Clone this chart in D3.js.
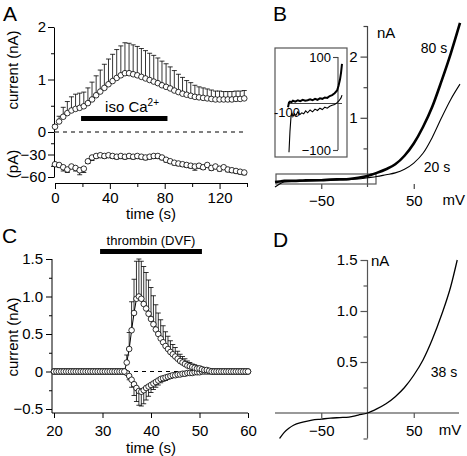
<!DOCTYPE html>
<html><head><meta charset="utf-8">
<script src="https://cdn.jsdelivr.net/npm/d3@7"></script>
<style>
body{margin:0;background:#fff}
svg text{font-family:"Liberation Sans",Arial,Helvetica,sans-serif;fill:#000}
</style>
</head><body><svg id="c" width="467" height="456"></svg>
<script>
// ---------- Panel A data ----------
const timeA = [0,3,6,9,12,15,18,21,24,27,30,33,36,39,42,45,48,51,54,57,60,63,66,69,72,75,78,81,84,87,90,93,96,99,102,105,108,111,114,117,120,123,126,129,132,135,138];
const currentA_nA = [0.10,0.20,0.29,0.36,0.41,0.44,0.46,0.49,0.55,0.62,0.70,0.77,0.84,0.91,0.97,1.03,1.08,1.12,1.12,1.10,1.08,1.05,1.02,0.99,0.96,0.93,0.89,0.86,0.83,0.79,0.76,0.73,0.71,0.69,0.67,0.66,0.65,0.64,0.63,0.62,0.62,0.62,0.62,0.62,0.63,0.63,0.64];
const semA_nA = [0.04,0.10,0.18,0.22,0.26,0.28,0.28,0.27,0.29,0.33,0.37,0.41,0.45,0.48,0.51,0.54,0.56,0.58,0.57,0.56,0.55,0.54,0.53,0.51,0.50,0.48,0.46,0.44,0.41,0.38,0.34,0.31,0.27,0.25,0.22,0.20,0.19,0.18,0.17,0.16,0.16,0.15,0.15,0.15,0.15,0.15,0.15];
const currentA_pA = [-43,-44,-47,-50,-46,-48,-51,-49,-39,-34,-32,-31,-32,-31,-32,-33,-32,-33,-32,-33,-32,-33,-34,-33,-32,-32,-34,-37,-39,-41,-42,-43,-44,-45,-46,-45,-47,-44,-48,-46,-49,-47,-50,-51,-52,-53,-54];
const semA_pA = [3,3,5,4,3,4,6,5,3,4,3,3,3,3,3,3,3,3,3,3,3,3,3,3,3,3,3,3,3,3,3,3,3,3,5,3,3,3,3,3,3,3,3,3,3,3,3];
const isoBar = [19, 82];
const tickA_x = [0,40,80,120];
const tickA_xMinor = [20,60,100,140];
const tickA_nA = [0,1,2];
const tickA_nAMinor = [0.5,1.5];
const tickA_pA = [-60,-30];
const tickA_pAMinor = [-45,-15];

// ---------- Panel B data ----------
const voltB80 = [-100,-95,-90,-80,-70,-60,-50,-40,-30,-20,-10,0,10,20,30,40,50,60,70,80,90,100];
const currB80 = [-0.05,-0.04,-0.03,-0.03,-0.025,-0.02,-0.02,-0.01,-0.005,0.0,0.02,0.05,0.10,0.16,0.24,0.38,0.58,0.85,1.18,1.60,2.05,2.55];
const voltB20 = [-100,-95,-90,-80,-70,-60,-50,-40,-30,-20,-10,0,10,20,30,40,50,60,70,80,90,100];
const currB20 = [-0.13,-0.08,-0.05,-0.04,-0.035,-0.03,-0.025,-0.02,-0.015,-0.01,0.0,0.02,0.04,0.07,0.10,0.16,0.26,0.42,0.68,1.00,1.30,1.55];
const insetV80 = [-100,-98,-96,-93,-90,-85,-80,-75,-70,-65,-60,-55,-50,-45,-40,-35,-30,-25,-20,-15,-10,-5,0,3,6,8,10];
const insetI80 = [-8,2,4,3,6,4,7,5,8,6,7,9,7,10,8,11,10,13,12,16,18,22,28,38,52,66,85];
const insetV20 = [-98,-96,-94,-92,-90,-87,-84,-80,-76,-72,-68,-64,-60,-55,-50,-45,-40,-35,-30,-25,-20,-15,-10,-5,0,4,8,10];
const insetI20 = [-105,-60,-30,-20,-28,-22,-26,-18,-24,-20,-22,-16,-20,-14,-18,-12,-15,-10,-13,-8,-10,-6,-4,-2,2,6,12,18];
const tickB_x = [-50,50];
const tickB_yMajor = [1,2];
const tickB_yMinor = [0.5,1.5,2.5];

// ---------- Panel C data ----------
const timeC = [20,20.5,21,21.5,22,22.5,23,23.5,24,24.5,25,25.5,26,26.5,27,27.5,28,28.5,29,29.5,30,30.5,31,31.5,32,32.5,33,33.5,34,34.5,35,35.5,36,36.5,37,37.5,38,38.5,39,39.5,40,40.5,41,41.5,42,42.5,43,43.5,44,44.5,45,45.5,46,46.5,47,47.5,48,48.5,49,49.5,50,50.5,51,51.5,52,52.5,53,53.5,54,54.5,55,55.5,56,56.5,57,57.5,58,58.5,59,59.5,60];
const outwardC = [0,0,0,0,0,0,0,0,0,0,0,0,0,0,0,0,0,0,0,0,0,0,0,0,0,0,0,0,0,0,
  0.12,0.30,0.55,0.78,0.97,1.00,0.97,0.90,0.84,0.77,0.70,0.63,0.56,0.50,0.44,0.39,0.34,0.30,0.26,0.23,0.20,0.17,0.14,0.12,0.10,0.08,0.07,0.06,0.05,0.04,0.04,0.03,0.02,0.02,0.01,
  0,0,0,0,0,0,0,0,0,0,0,0,0,0,0,0];
const outwardSemC = [0,0,0,0,0,0,0,0,0,0,0,0,0,0,0,0,0,0,0,0,0,0,0,0,0,0,0,0,0,0,
  0.10,0.22,0.38,0.45,0.50,0.50,0.50,0.50,0.48,0.45,0.42,0.38,0.33,0.28,0.25,0.22,0.19,0.17,0.15,0.13,0.12,0.10,0.09,0.08,0.07,0.06,0.05,0.04,0.04,0.03,0.03,0.02,0.02,0.01,0.01,
  0,0,0,0,0,0,0,0,0,0,0,0,0,0,0,0];
const inwardC = [0,0,0,0,0,0,0,0,0,0,0,0,0,0,0,0,0,0,0,0,0,0,0,0,0,0,0,0,0,0,
  -0.02,-0.06,-0.11,-0.17,-0.22,-0.26,-0.27,-0.25,-0.22,-0.20,-0.18,-0.16,-0.14,-0.12,-0.10,-0.09,-0.08,-0.07,-0.06,-0.05,-0.05,-0.04,-0.04,-0.03,-0.03,-0.02,-0.02,-0.02,-0.01,-0.01,-0.01,0,0,0,0,
  0,0,0,0,0,0,0,0,0,0,0,0,0,0,0,0];
const inwardSemC = [0,0,0,0,0,0,0,0,0,0,0,0,0,0,0,0,0,0,0,0,0,0,0,0,0,0,0,0,0,0,
  0.02,0.05,0.10,0.15,0.18,0.19,0.19,0.18,0.16,0.13,0.10,0.08,0.07,0.06,0.05,0.04,0.04,0.03,0.03,0.02,0.02,0.02,0.01,0.01,0.01,0.01,0.01,0.01,0.01,0.01,0.01,0.01,0.01,0.01,0.01,
  0,0,0,0,0,0,0,0,0,0,0,0,0,0,0,0];
const thrombinBar = [29.5, 50.5];
const tickC_x = [20,30,40,50,60];
const tickC_yMajor = [-0.5,0,0.5,1.0,1.5];
const tickC_yMinor = [-0.25,0.25,0.75,1.25];

// ---------- Panel D data ----------
const voltD = [-95,-90,-85,-80,-70,-60,-50,-40,-30,-20,-10,0,10,20,30,40,50,60,70,80,90,97];
const currD = [-0.25,-0.19,-0.15,-0.12,-0.09,-0.07,-0.06,-0.05,-0.045,-0.04,-0.02,0.0,0.04,0.09,0.16,0.25,0.37,0.52,0.72,0.96,1.24,1.50];
const tickD_x = [-50,50];
const tickD_yMajor = [0.5,1.0,1.5];
const tickD_yMinor = [-0.25,0.25,0.75,1.25];

// ================= drawing =================
const FONT = '"Liberation Sans",Arial,Helvetica,sans-serif';
const svg = d3.select('#c');
svg.append('rect').attr('width',467).attr('height',456).attr('fill','#fff');

function styleAxis(g, color, fs, width){
  g.attr('font-family', FONT).attr('font-size', fs);
  g.selectAll('path.domain').attr('stroke', color).attr('stroke-width', width||1);
  g.selectAll('.tick line').attr('stroke', color).attr('stroke-width', width||1);
  g.selectAll('.tick text').attr('fill', '#000');
  return g;
}
function panelLetter(t, x, y){
  svg.append('text').attr('x',x).attr('y',y).attr('font-size',21).text(t);
}
function errorBars(g, xs, ys, es, xScale, yScale, dir, cap){
  const data = xs.map((x,i)=>({x, y:ys[i], e:es[i]})).filter(d=>d.e>0);
  g.selectAll(null).data(data).join('line')
    .attr('x1',d=>xScale(d.x)).attr('x2',d=>xScale(d.x))
    .attr('y1',d=>yScale(d.y)).attr('y2',d=>yScale(d.y+dir*d.e))
    .attr('stroke','#000').attr('stroke-width',0.8);
  g.selectAll(null).data(data).join('line')
    .attr('x1',d=>xScale(d.x)-cap).attr('x2',d=>xScale(d.x)+cap)
    .attr('y1',d=>yScale(d.y+dir*d.e)).attr('y2',d=>yScale(d.y+dir*d.e))
    .attr('stroke','#000').attr('stroke-width',0.8);
}
function circles(g, xs, ys, xScale, yScale, r){
  g.selectAll(null).data(xs.map((x,i)=>[x,ys[i]])).join('circle')
    .attr('cx',d=>xScale(d[0])).attr('cy',d=>yScale(d[1])).attr('r',r)
    .attr('fill','#fff').attr('stroke','#000').attr('stroke-width',0.8);
}

// ---------- Panel A ----------
{
  const xA = d3.scaleLinear().domain([0,140]).range([55,247]);
  const yA = d3.scaleLinear().domain([0,2]).range([132,27]);
  const yAp = d3.scaleLinear().domain([-60,0]).range([177,132]);
  const g = svg.append('g');
  styleAxis(g.append('g').attr('transform','translate(54,0)')
    .call(d3.axisLeft(yA).tickValues(tickA_nA).tickSize(6).tickSizeOuter(0).tickPadding(2).tickFormat(d3.format('d'))), '#000', 15);
  styleAxis(g.append('g').attr('transform','translate(54,0)')
    .call(d3.axisLeft(yA).tickValues(tickA_nAMinor).tickSize(3).tickFormat('')).call(a=>a.select('.domain').remove()), '#000', 15);
  styleAxis(g.append('g').attr('transform','translate(54,0)')
    .call(d3.axisLeft(yAp).tickValues(tickA_pA).tickSize(6).tickSizeOuter(0).tickPadding(2)), '#000', 15);
  styleAxis(g.append('g').attr('transform','translate(54,0)')
    .call(d3.axisLeft(yAp).tickValues(tickA_pAMinor).tickSize(3).tickFormat('')).call(a=>a.select('.domain').remove()), '#000', 15);
  styleAxis(g.append('g').attr('transform','translate(0,183)')
    .call(d3.axisBottom(xA).tickValues(tickA_x).tickSize(6).tickSizeOuter(0).tickPadding(3)), '#000', 15);
  styleAxis(g.append('g').attr('transform','translate(0,183)')
    .call(d3.axisBottom(xA).tickValues(tickA_xMinor).tickSize(4).tickFormat('')).call(a=>a.select('.domain').remove()), '#000', 15);
  g.append('line').attr('x1',xA(0)).attr('x2',xA(140)).attr('y1',yA(0)).attr('y2',yA(0))
    .attr('stroke','#000').attr('stroke-dasharray','4,4').attr('stroke-width',1);
  g.append('rect').attr('x',xA(isoBar[0])).attr('width',xA(isoBar[1])-xA(isoBar[0]))
    .attr('y',116).attr('height',5).attr('fill','#000');
  const t = g.append('text').attr('x',xA(isoBar[0])+24).attr('y',112).attr('font-size',15);
  t.append('tspan').text('iso Ca');
  t.append('tspan').attr('dy',-6).attr('font-size',10).text('2+');
  errorBars(g, timeA, currentA_nA, semA_nA, xA, yA, 1, 2.5);
  errorBars(g, timeA, currentA_pA, semA_pA, xA, yAp, -1, 2.5);
  circles(g, timeA, currentA_nA, xA, yA, 2.8);
  circles(g, timeA, currentA_pA, xA, yAp, 2.8);
  g.append('text').attr('transform','translate(18,70) rotate(-90)').attr('text-anchor','middle').attr('font-size',15).text('current (nA)');
  g.append('text').attr('transform','translate(18,164) rotate(-90)').attr('text-anchor','middle').attr('font-size',15).text('(pA)');
  g.append('text').attr('x',151).attr('y',219).attr('text-anchor','middle').attr('font-size',15).text('time (s)');
  panelLetter('A', 3, 21);
}

// ---------- Panel B ----------
{
  const xB = d3.scaleLinear().domain([-100,100]).range([275,460]);
  const yB = d3.scaleLinear().domain([0,2.5]).range([179,26]);
  const g = svg.append('g');
  const ax = '#444';
  g.append('line').attr('x1',xB(0)).attr('x2',xB(0)).attr('y1',yB(2.5)).attr('y2',187).attr('stroke',ax).attr('stroke-width',1.2);
  styleAxis(g.append('g').attr('transform',`translate(${xB(0)},0)`)
    .call(d3.axisLeft(yB).tickValues(tickB_yMajor).tickSize(7).tickPadding(3).tickFormat(d3.format('d'))).call(a=>a.select('.domain').remove()), ax, 15, 1.2);
  styleAxis(g.append('g').attr('transform',`translate(${xB(0)},0)`)
    .call(d3.axisLeft(yB).tickValues(tickB_yMinor).tickSize(4).tickFormat('')).call(a=>a.select('.domain').remove()), ax, 15, 1.2);
  styleAxis(g.append('g').attr('transform','translate(0,184)')
    .call(d3.axisBottom(xB).tickValues(tickB_x).tickSize(5).tickPadding(6).tickFormat(d3.format('d'))).call(a=>a.select('.domain').remove()), ax, 15, 1.2);
  g.append('text').attr('x',465).attr('y',205).attr('text-anchor','end').attr('font-size',15).text('mV');
  g.append('text').attr('x',377).attr('y',38).attr('font-size',15).text('nA');
  g.append('rect').attr('x',276).attr('y',174).attr('width',100).attr('height',10)
    .attr('fill','none').attr('stroke','#555').attr('stroke-width',1.2);
  const line = d3.line().x(d=>xB(d[0])).y(d=>yB(d[1])).curve(d3.curveMonotoneX);
  g.append('path').attr('d', line(voltB20.map((v,i)=>[v,currB20[i]]))).attr('fill','none').attr('stroke','#000').attr('stroke-width',1.1);
  g.append('path').attr('d', line(voltB80.map((v,i)=>[v,currB80[i]]))).attr('fill','none').attr('stroke','#000').attr('stroke-width',2.6);
  g.append('text').attr('x',434).attr('y',53).attr('text-anchor','middle').attr('font-size',14).text('80 s');
  g.append('text').attr('x',437).attr('y',172).attr('text-anchor','middle').attr('font-size',14).text('20 s');
  // inset
  const xI = d3.scaleLinear().domain([-100,10]).range([288,342]);
  const yI = d3.scaleLinear().domain([-100,100]).range([150,57]);
  g.append('rect').attr('x',275).attr('y',48).attr('width',72).attr('height',109)
    .attr('fill','#fff').attr('stroke','#555').attr('stroke-width',1.2);
  g.append('line').attr('x1',338).attr('x2',338).attr('y1',yI(100)).attr('y2',yI(-100)).attr('stroke',ax).attr('stroke-width',1.1);
  styleAxis(g.append('g').attr('transform','translate(338,0)')
    .call(d3.axisLeft(yI).tickValues([-100,100]).tickSize(5).tickPadding(2).tickFormat(d3.format('d'))).call(a=>a.select('.domain').remove()), ax, 13, 1.1);
  g.append('line').attr('x1',xI(-100)).attr('x2',xI(10)).attr('y1',yI(0)).attr('y2',yI(0)).attr('stroke','#444').attr('stroke-width',1);
  g.append('text').attr('x',287).attr('y',117).attr('text-anchor','middle').attr('font-size',13).text('-100');
  const li = d3.line().x(d=>xI(d[0])).y(d=>yI(d[1]));
  g.append('path').attr('d', li(insetV20.map((v,i)=>[v,insetI20[i]]))).attr('fill','none').attr('stroke','#000').attr('stroke-width',1.1);
  g.append('path').attr('d', li(insetV80.map((v,i)=>[v,insetI80[i]]))).attr('fill','none').attr('stroke','#000').attr('stroke-width',2);
  panelLetter('B', 273, 21);
}

// ---------- Panel C ----------
{
  const xC = d3.scaleLinear().domain([20,60]).range([54,248]);
  const yC = d3.scaleLinear().domain([-0.5,1.5]).range([409,259]);
  const g = svg.append('g');
  g.append('path').attr('d',`M52,${yC(1.5)}V413H248`).attr('fill','none').attr('stroke','#000');
  styleAxis(g.append('g').attr('transform','translate(52,0)')
    .call(d3.axisLeft(yC).tickValues(tickC_yMajor).tickSize(6).tickPadding(3).tickFormat(d=>d===0?'0':d3.format('.1f')(d))).call(a=>a.select('.domain').remove()), '#000', 15);
  styleAxis(g.append('g').attr('transform','translate(52,0)')
    .call(d3.axisLeft(yC).tickValues(tickC_yMinor).tickSize(3).tickFormat('')).call(a=>a.select('.domain').remove()), '#000', 15);
  styleAxis(g.append('g').attr('transform','translate(0,413)')
    .call(d3.axisBottom(xC).tickValues(tickC_x).tickSize(5).tickPadding(7)).call(a=>a.select('.domain').remove()), '#000', 15);
  g.append('line').attr('x1',xC(20)).attr('x2',xC(60)).attr('y1',yC(0)).attr('y2',yC(0))
    .attr('stroke','#000').attr('stroke-dasharray','4,4');
  g.append('rect').attr('x',xC(thrombinBar[0])).attr('width',xC(thrombinBar[1])-xC(thrombinBar[0]))
    .attr('y',249).attr('height',5).attr('fill','#000');
  g.append('text').attr('x',(xC(thrombinBar[0])+xC(thrombinBar[1]))/2).attr('y',245).attr('text-anchor','middle').attr('font-size',13).text('thrombin (DVF)');
  errorBars(g, timeC, outwardC, outwardSemC, xC, yC, 1, 2.5);
  errorBars(g, timeC, inwardC, inwardSemC, xC, yC, -1, 2.5);
  const ln = d3.line().x(d=>xC(d[0])).y(d=>yC(d[1]));
  g.append('path').attr('d', ln(timeC.map((t,i)=>[t,outwardC[i]]))).attr('fill','none').attr('stroke','#000').attr('stroke-width',1);
  g.append('path').attr('d', ln(timeC.map((t,i)=>[t,inwardC[i]]))).attr('fill','none').attr('stroke','#000').attr('stroke-width',1);
  circles(g, timeC, inwardC, xC, yC, 2.8);
  circles(g, timeC, outwardC, xC, yC, 2.8);
  g.append('text').attr('transform','translate(18,337) rotate(-90)').attr('text-anchor','middle').attr('font-size',15).text('current (nA)');
  g.append('text').attr('x',151).attr('y',453).attr('text-anchor','middle').attr('font-size',15).text('time (s)');
  panelLetter('C', 2, 243);
}

// ---------- Panel D ----------
{
  const xD = d3.scaleLinear().domain([-100,100]).range([275,460]);
  const yD = d3.scaleLinear().domain([0,1.5]).range([413,260]);
  const g = svg.append('g');
  const ax = '#555';
  g.append('line').attr('x1',275).attr('x2',459).attr('y1',yD(0)).attr('y2',yD(0)).attr('stroke','#777').attr('stroke-width',1.5);
  g.append('line').attr('x1',xD(0)).attr('x2',xD(0)).attr('y1',yD(1.5)).attr('y2',yD(-0.25)).attr('stroke',ax).attr('stroke-width',1.2);
  styleAxis(g.append('g').attr('transform',`translate(${xD(0)},0)`)
    .call(d3.axisLeft(yD).tickValues(tickD_yMajor).tickSize(7).tickPadding(3).tickFormat(d3.format('.1f'))).call(a=>a.select('.domain').remove()), ax, 15, 1.2);
  styleAxis(g.append('g').attr('transform',`translate(${xD(0)},0)`)
    .call(d3.axisLeft(yD).tickValues(tickD_yMinor).tickSize(4).tickFormat('')).call(a=>a.select('.domain').remove()), ax, 15, 1.2);
  styleAxis(g.append('g').attr('transform',`translate(0,${yD(0)})`)
    .call(d3.axisBottom(xD).tickValues(tickD_x).tickSize(5).tickPadding(7).tickFormat(d3.format('d'))).call(a=>a.select('.domain').remove()), ax, 15, 1.2);
  g.append('text').attr('x',450).attr('y',435).attr('text-anchor','middle').attr('font-size',15).text('mV');
  g.append('text').attr('x',371).attr('y',266).attr('font-size',15).text('nA');
  const line = d3.line().x(d=>xD(d[0])).y(d=>yD(d[1])).curve(d3.curveMonotoneX);
  g.append('path').attr('d', line(voltD.map((v,i)=>[v,currD[i]]))).attr('fill','none').attr('stroke','#000').attr('stroke-width',1.3);
  g.append('text').attr('x',444).attr('y',377).attr('text-anchor','middle').attr('font-size',14).text('38 s');
  panelLetter('D', 273, 247);
}
</script></body></html>
